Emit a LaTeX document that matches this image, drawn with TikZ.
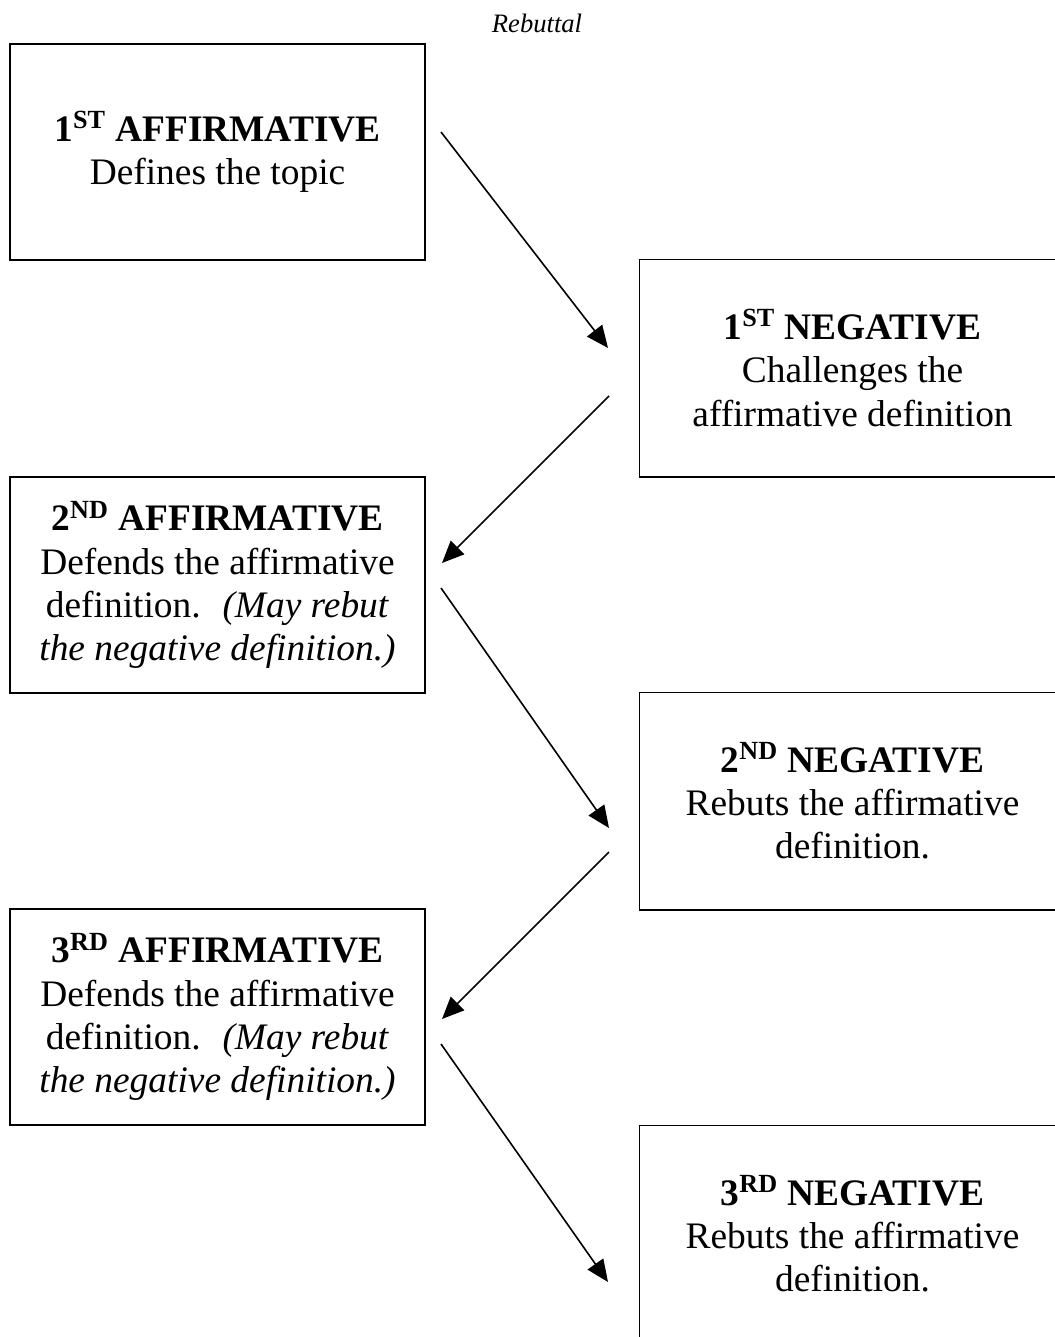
\documentclass[tikz,border=0pt]{standalone}
\usepackage{fontspec}
\setmainfont{Liberation Serif}
\usetikzlibrary{arrows.meta}

\begin{document}
\begin{tikzpicture}
[
	x=0.5pt,
	y=-0.5pt,
	affbox/.style={draw,line width=0.75pt,minimum width=207.5pt,minimum height=108pt,inner sep=0pt,align=center,font=\fontsize{18.7}{21.7}\selectfont},
	negbox/.style={affbox,draw=none,minimum width=212.5pt},
	frame/.style={line width=0.75pt},
	turn/.style={-{Triangle[length=11pt,width=9.5pt]},line width=0.8pt}
]

	\useasboundingbox (0,0) rectangle (1054,1337);

	% heading
	\node[font=\itshape\fontsize{13.3}{16}\selectfont] (title) at (537,23) {Rebuttal};

	% affirmative side
	\node[affbox] (aff1) at (217.5,152) {\textbf{1\textsuperscript{ST} AFFIRMATIVE}\\Defines the topic};
	\node[affbox] (aff2) at (217.5,585) {\textbf{2\textsuperscript{ND} AFFIRMATIVE}\\Defends the affirmative\\definition.~ \textit{(May rebut}\\\textit{the negative definition.)}};
	\node[affbox] (aff3) at (217.5,1017) {\textbf{3\textsuperscript{RD} AFFIRMATIVE}\\Defends the affirmative\\definition.~ \textit{(May rebut}\\\textit{the negative definition.)}};

	% negative side, the right edge runs off the page
	\node[negbox] (neg1) at (852.5,368) {\textbf{1\textsuperscript{ST} NEGATIVE}\\Challenges the\\affirmative definition};
	\node[negbox] (neg2) at (852.5,801) {\textbf{2\textsuperscript{ND} NEGATIVE}\\Rebuts the affirmative\\definition.};
	\node[negbox] (neg3) at (852.5,1234) {\textbf{3\textsuperscript{RD} NEGATIVE}\\Rebuts the affirmative\\definition.};
	\foreach \n in {neg1,neg2,neg3}
		\draw[frame] (\n.north east) -- (\n.north west) -- (\n.south west) -- (\n.south east);

	% arrows
	\coordinate (s1) at (441,132);
	\coordinate (e1) at (608,348);
	\coordinate (s2) at (609,396);
	\coordinate (e2) at (442,563);
	\coordinate (s3) at (441,588);
	\coordinate (e3) at (609,828);
	\coordinate (s4) at (609,852);
	\coordinate (e4) at (442,1019);
	\coordinate (s5) at (441,1044);
	\coordinate (e5) at (608,1282);

	\draw[turn] (s1) -- (e1);
	\draw[turn] (s2) -- (e2);
	\draw[turn] (s3) -- (e3);
	\draw[turn] (s4) -- (e4);
	\draw[turn] (s5) -- (e5);

\end{tikzpicture}
\end{document}
